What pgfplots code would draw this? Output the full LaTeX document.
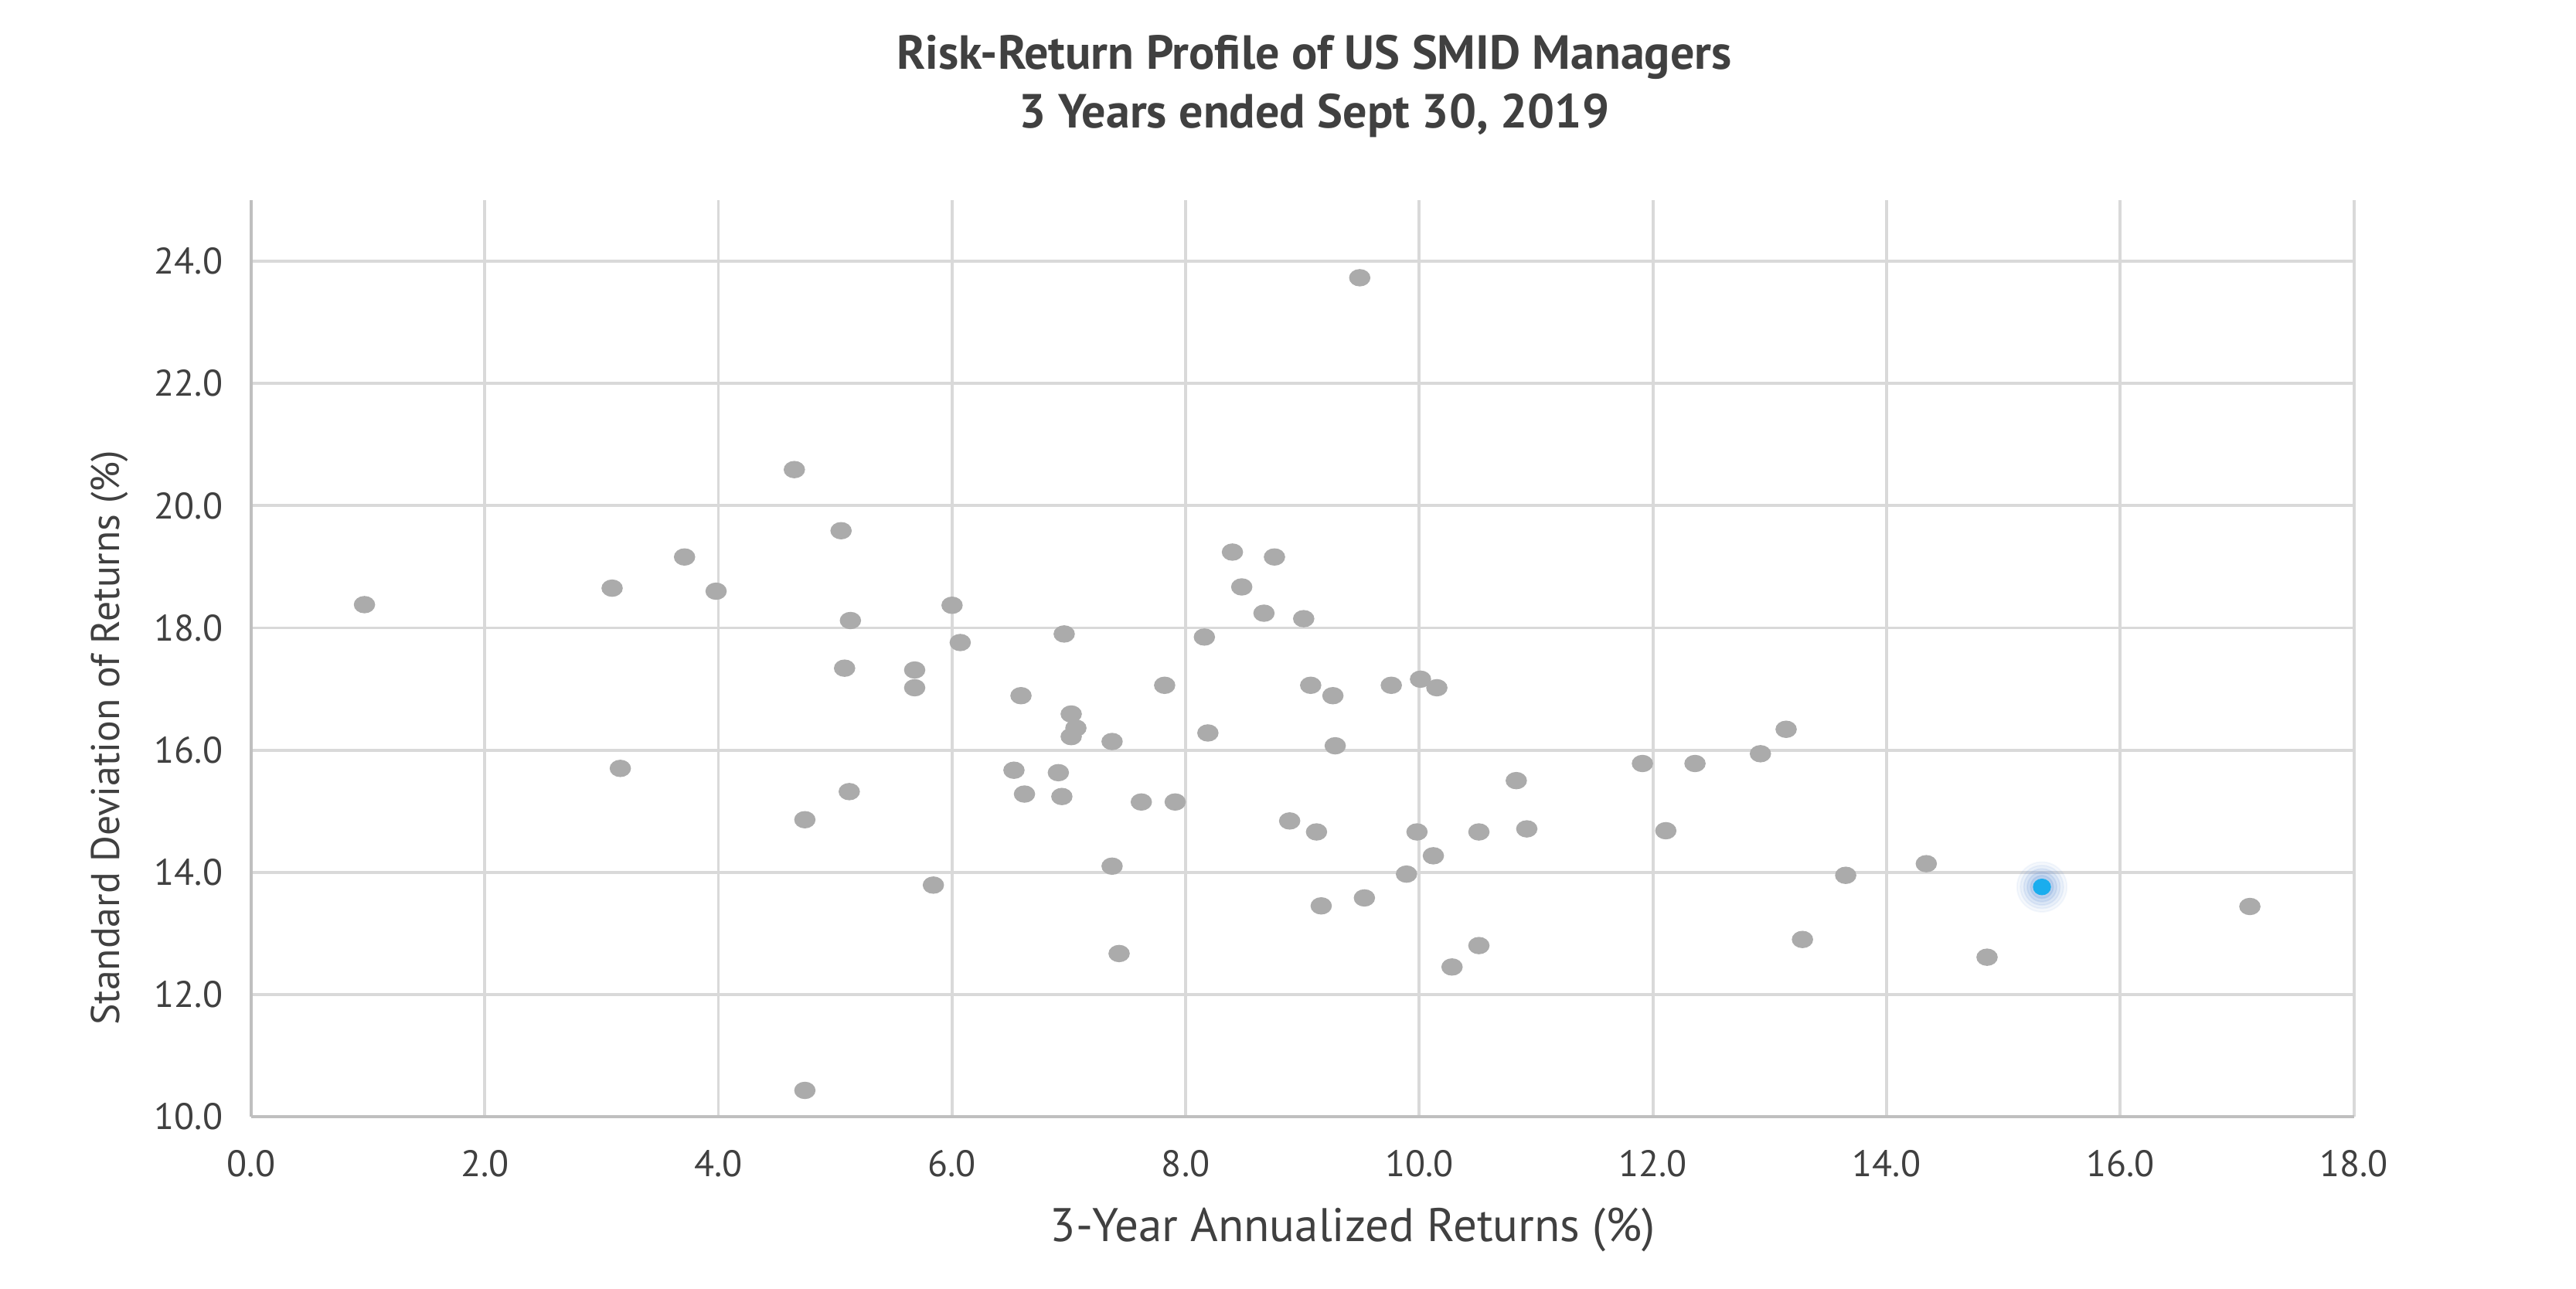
\documentclass[border=0pt]{standalone}
\usepackage{fontspec}
\setmainfont{PT Sans}
\usepackage{pgfplots}
\pgfplotsset{compat=1.18}
\usetikzlibrary{calc}
\definecolor{txt}{HTML}{404040}
\definecolor{gridc}{HTML}{D9D9D9}
\definecolor{axc}{HTML}{BFBFBF}
\definecolor{dotc}{HTML}{ABABAB}
\definecolor{hl}{HTML}{1AADEE}
\definecolor{glow}{HTML}{6F9BD8}

\begin{document}
\begin{tikzpicture}
\begin{axis}[
    name=ax,
    scale only axis,
    width=19.59cm, height=8.54cm,
    xmin=0, xmax=18, ymin=10, ymax=25,
    xtick={0,2,...,18}, ytick={10,12,...,24},
    xticklabel style={/pgf/number format/.cd,fixed,fixed zerofill,precision=1},
    yticklabel style={/pgf/number format/.cd,fixed,fixed zerofill,precision=1},
    /pgf/number format/assume math mode=true,
    tick label style={font=\fontsize{9.8}{11}\selectfont, text=txt},
    major tick length=0pt,
    axis x line=bottom, axis y line=left,
    axis line style={axc, line width=0.9pt, -},
    grid=major,
    major grid style={gridc, line width=0.8pt},
    xticklabel shift=5.3pt, yticklabel shift=4pt,
    xlabel={3-Year Annualized Returns (\%)},
    ylabel={Standard Deviation of Returns (\%)},
    xlabel style={font=\fontsize{12.5}{14}\selectfont, text=txt, yshift=-1.3pt, xshift=0.47cm},
    ylabel style={font=\fontsize{10.6}{12}\selectfont, text=txt, yshift=0pt, xshift=-0.74cm},
    clip=false,
]
% peer managers
\addplot[only marks, mark=*, mark size=2.1pt, color=dotc,
    mark options={fill=dotc, draw=dotc, xscale=1.25}] coordinates {
(0.97,18.38) (3.09,18.65) (3.16,15.70) (3.71,19.16) (3.98,18.60)
(4.65,20.59) (4.74,14.86) (4.74,10.43) (5.05,19.59) (5.08,17.34)
(5.13,18.12) (5.12,15.32) (5.68,17.31) (5.68,17.02) (5.84,13.79)
(6.00,18.37) (6.07,17.76) (6.53,15.67) (6.59,16.89) (6.62,15.28)
(6.96,17.90) (6.91,15.63) (6.94,15.24) (7.02,16.59) (7.06,16.36)
(7.02,16.22) (7.37,16.14) (7.37,14.10) (7.43,12.67) (7.62,15.15)
(7.82,17.06) (7.91,15.15) (8.16,17.85) (8.19,16.28) (8.40,19.24)
(8.48,18.67) (8.67,18.24) (8.76,19.16) (8.89,14.84) (9.01,18.15)
(9.07,17.06) (9.12,14.66) (9.16,13.45) (9.26,16.89) (9.28,16.07)
(9.49,23.73) (9.53,13.58) (9.76,17.06) (9.89,13.97) (9.98,14.66)
(10.01,17.16) (10.12,14.27) (10.15,17.02) (10.28,12.45) (10.51,14.66)
(10.51,12.80) (10.83,15.50) (10.92,14.71) (11.91,15.78) (12.11,14.68)
(12.36,15.78) (12.92,15.94) (13.14,16.34) (13.28,12.90) (13.65,13.95)
(14.34,14.14) (14.86,12.61) (17.11,13.44)
};
% highlighted manager: soft glow, then dot
\addplot[only marks, mark=*, mark size=6.6pt, color=glow,
    mark options={fill=glow, draw=none, opacity=0.07}] coordinates {(15.33,13.76)};
\addplot[only marks, mark=*, mark size=5.7pt, color=glow,
    mark options={fill=glow, draw=none, opacity=0.09}] coordinates {(15.33,13.76)};
\addplot[only marks, mark=*, mark size=4.8pt, color=glow,
    mark options={fill=glow, draw=none, opacity=0.12}] coordinates {(15.33,13.76)};
\addplot[only marks, mark=*, mark size=3.9pt, color=glow,
    mark options={fill=glow, draw=none, opacity=0.15}] coordinates {(15.33,13.76)};
\addplot[only marks, mark=*, mark size=3pt, color=glow,
    mark options={fill=glow, draw=none, opacity=0.2}] coordinates {(15.33,13.76)};
\addplot[only marks, mark=*, mark size=2pt, color=hl,
    mark options={fill=hl, draw=hl, xscale=1.1}] coordinates {(15.33,13.76)};
\end{axis}
\node[font=\bfseries\fontsize{12.7}{15.5}\selectfont, text=txt, align=center, anchor=center]
    at ($(ax.north west)!0.5!(ax.north east)+(0.11cm,1.06cm)$)
    {Risk-Return Profile of US SMID Managers\\3 Years ended Sept 30, 2019};
\pgfresetboundingbox
\path[use as bounding box] ($(ax.south west)+(-2.34cm,-1.60cm)$) rectangle ($(ax.north east)+(2.07cm,1.865cm)$);
\end{tikzpicture}
\end{document}
